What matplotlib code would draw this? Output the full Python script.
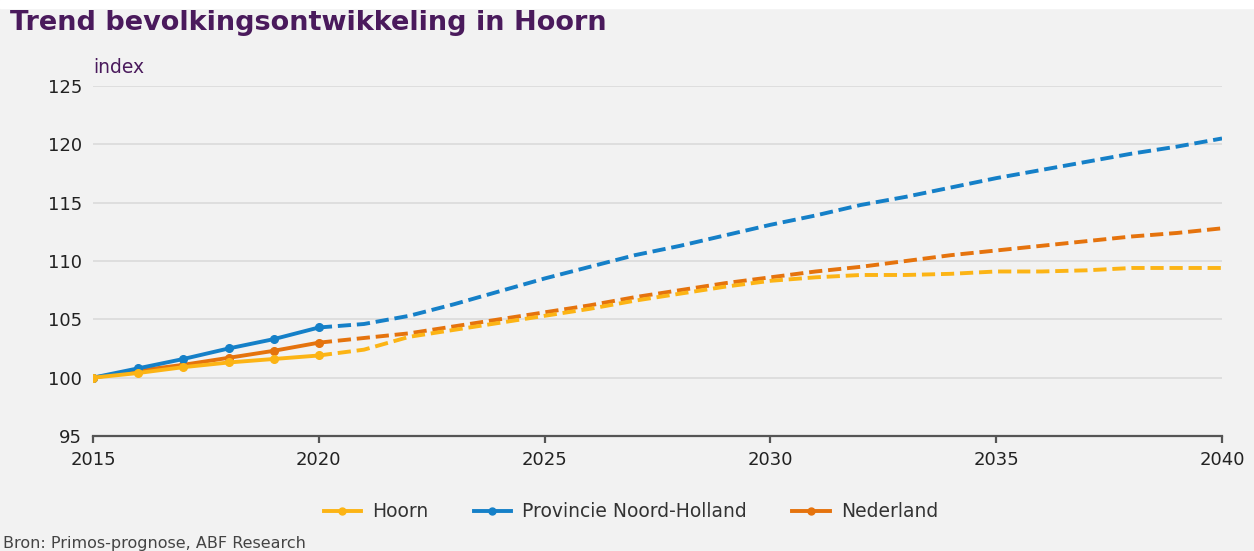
import matplotlib.pyplot as plt
from matplotlib.lines import Line2D

years_hist = [2015, 2016, 2017, 2018, 2019, 2020]
years_prog = list(range(2020, 2041))

hoorn_hist = [100, 100.4, 100.9, 101.3, 101.6, 101.9]
hoorn_prog = [101.9, 102.4, 103.5, 104.1, 104.7, 105.3, 105.9, 106.6, 107.2, 107.8, 108.3,
              108.6, 108.8, 108.8, 108.9, 109.1, 109.1, 109.2, 109.4, 109.4, 109.4]

nh_hist = [100, 100.8, 101.6, 102.5, 103.3, 104.3]
nh_prog = [104.3, 104.6, 105.3, 106.3, 107.4, 108.5, 109.5, 110.5, 111.3, 112.2, 113.1,
           113.9, 114.8, 115.5, 116.3, 117.1, 117.8, 118.5, 119.2, 119.8, 120.5]

nl_hist = [100, 100.6, 101.1, 101.7, 102.3, 103.0]
nl_prog = [103.0, 103.4, 103.8, 104.4, 105.0, 105.6, 106.2, 106.9, 107.5, 108.1, 108.6,
           109.1, 109.5, 110.0, 110.5, 110.9, 111.3, 111.7, 112.1, 112.4, 112.8]

labels = ['Hoorn', 'Provincie Noord-Holland', 'Nederland']
colors = ['#fcb415', '#1580c8', '#e5730d']
series = [(hoorn_hist, hoorn_prog), (nh_hist, nh_prog), (nl_hist, nl_prog)]

bg = '#f2f2f2'
purple = '#4a1a5c'

fig = plt.figure(figsize=(12.54, 5.51), dpi=100)
fig.patch.set_facecolor(bg)
ax = fig.add_axes([0.0742, 0.2087, 0.9003, 0.6353])
ax.set_facecolor(bg)

# draw the later series first so Hoorn ends up on top like the reference
for (hist, prog), col in reversed(list(zip(series, colors))):
    ax.plot(years_prog, prog, color=col, lw=2.8, ls=(0, (3.4, 1.5)),
            solid_capstyle='butt', zorder=3)
    ax.plot(years_hist, hist, color=col, lw=2.8, marker='o', markersize=5.5,
            zorder=4)

ax.set_xlim(2015, 2040)
ax.set_ylim(95, 125)
ax.set_xticks([2015, 2020, 2025, 2030, 2035, 2040])
ax.set_yticks([95, 100, 105, 110, 115, 120, 125])
ax.grid(axis='y', color='#dcdcdc', lw=1.3)
ax.set_axisbelow(True)
for s in ['top', 'right', 'left']:
    ax.spines[s].set_visible(False)
ax.spines['bottom'].set_color('#555555')
ax.spines['bottom'].set_linewidth(1.6)
ax.tick_params(axis='y', length=0, pad=8, labelsize=13, labelcolor='#222222')
ax.tick_params(axis='x', length=5, width=1.6, color='#555555', pad=6,
               labelsize=13, labelcolor='#222222')

fig.text(0.008, 0.958, 'Trend bevolkingsontwikkeling in Hoorn', fontsize=19.5,
         fontweight='bold', color=purple, va='center', ha='left')
fig.text(0.074, 0.878, 'index', fontsize=13.5, color=purple, va='center', ha='left')

# white strip at the very top
fig.patches.append(plt.Rectangle((0, 0.985), 1, 0.015, transform=fig.transFigure,
                                 color='white', zorder=0))

handles = [Line2D([0], [0], color=c, lw=2.8, marker='o', markersize=5) for c in colors]
fig.legend(handles, labels, loc='center', bbox_to_anchor=(0.503, 0.071), ncol=3,
           frameon=False, fontsize=13.5, handlelength=2.0, handletextpad=0.6,
           columnspacing=2.4, labelcolor='#333333')

fig.text(0.002, 0.0, 'Bron: Primos-prognose, ABF Research', fontsize=11.5,
         color='#444444', va='bottom', ha='left')

fig.savefig('out.png', dpi=100, facecolor=bg)
